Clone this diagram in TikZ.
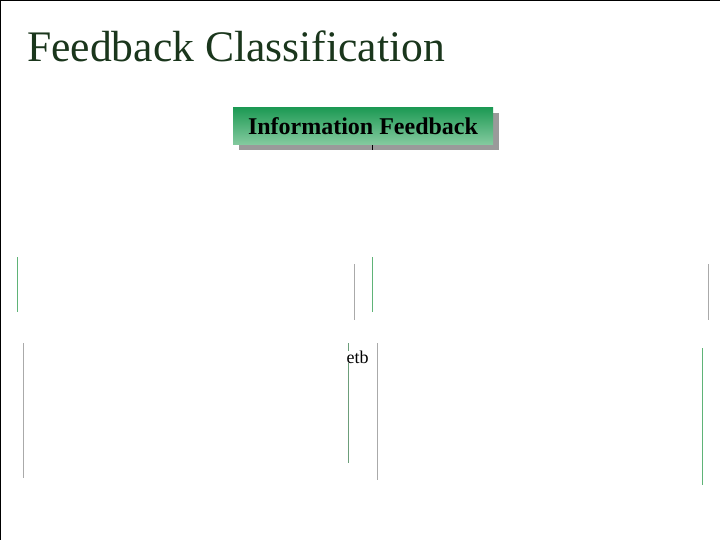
\documentclass[tikz,border=0pt]{standalone}
\usepackage{fontspec}
\setmainfont{Liberation Serif}
\definecolor{titlegreen}{HTML}{1A361C}
\definecolor{boxtop}{HTML}{1E9A55}
\definecolor{boxbot}{HTML}{86CBA0}
\definecolor{shadowgray}{HTML}{9A9A9A}
\definecolor{faintgreen}{HTML}{5FB377}
\definecolor{faintgray}{HTML}{AAAAAA}
\begin{document}
\begin{tikzpicture}[x=1pt,y=-1pt,
  greenline/.style={draw=faintgreen,line width=1pt},
  grayline/.style={draw=faintgray,line width=1pt},
  tick/.style={draw=black,line width=0.8pt}]
\useasboundingbox (0,0) rectangle (720,540);
\fill[white] (0,0) rectangle (720,540);
% frame (top and left edges)
\draw[black,line width=2pt] (0,540) -- (0,0) -- (720,0);
% title
\node[anchor=base west,inner sep=0pt,text=titlegreen,font=\fontsize{43.6}{48}\selectfont] (title) at (27,62) {Feedback Classification};
% box with shadow
\fill[shadowgray] (239,113) rectangle (499,150);
\shade[top color=boxtop,bottom color=boxbot] (233,108) rectangle (493,145);
\node[anchor=base,inner sep=0pt,font=\fontsize{24}{28}\selectfont\bfseries] (info) at (363,135) {Information Feedback};
\coordinate (tickA) at (372.5,145);
\coordinate (tickB) at (372.5,150);
\draw[tick] (tickA) -- (tickB);
% faint vertical lines
\coordinate (g1a) at (17.5,257); \coordinate (g1b) at (17.5,312);
\coordinate (g2a) at (372.5,257); \coordinate (g2b) at (372.5,312);
\coordinate (r1a) at (354.5,264); \coordinate (r1b) at (354.5,320);
\coordinate (r2a) at (708.5,264); \coordinate (r2b) at (708.5,320);
\coordinate (r3a) at (23.5,343); \coordinate (r3b) at (23.5,478);
\coordinate (g3a) at (348.5,343); \coordinate (g3b) at (348.5,463);
\coordinate (r4a) at (377.5,343); \coordinate (r4b) at (377.5,480);
\coordinate (g4a) at (702.5,348); \coordinate (g4b) at (702.5,485);
\draw[greenline] (g1a) -- (g1b);
\draw[greenline] (g2a) -- (g2b);
\draw[grayline] (r1a) -- (r1b);
\draw[grayline] (r2a) -- (r2b);
\draw[grayline] (r3a) -- (r3b);
\draw[greenline,draw=faintgreen!60!gray] (g3a) -- (g3b);
\draw[grayline] (r4a) -- (r4b);
\draw[greenline] (g4a) -- (g4b);
% fragment of text
\node[anchor=base west,inner sep=0pt,fill=white,font=\fontsize{18}{20}\selectfont] (etb) at (346.5,363) {etb};
\end{tikzpicture}
\end{document}
